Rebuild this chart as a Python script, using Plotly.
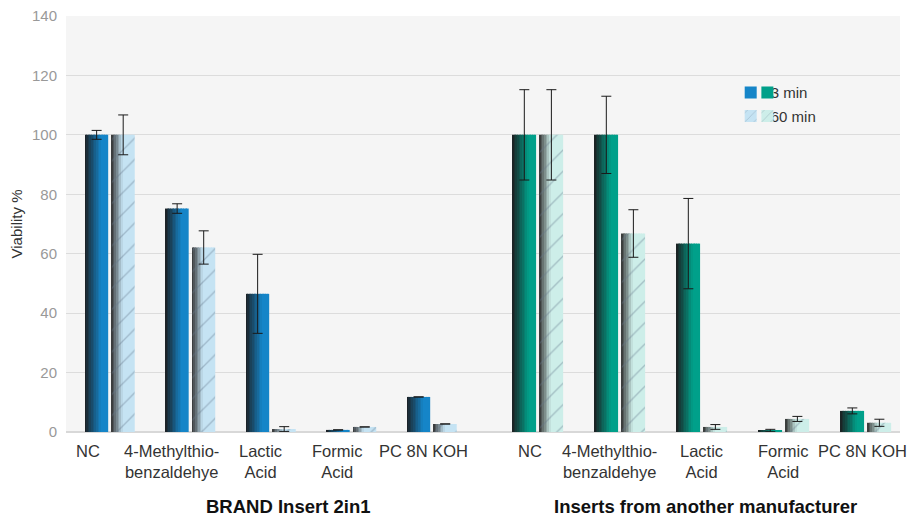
import plotly.graph_objects as go

categories = ["NC", "4-Methylthio-<br>benzaldehye", "Lactic<br>Acid", "Formic<br>Acid", "PC 8N KOH"]
group_titles = ["BRAND Insert 2in1", "Inserts from another manufacturer"]
series_names = ["3 min", "60 min"]

brand_3min = [100, 75.2, 46.5, 0.7, 11.8]
brand_3min_err = [1.5, 1.6, 13.3, None, None]
brand_60min = [100, 62.1, 1.0, 1.7, 2.7]
brand_60min_err = [6.7, 5.6, 0.8, None, None]

other_3min = [100, 100, 63.4, 0.5, 7.1]
other_3min_err = [15.2, 13.0, 15.2, 0.4, 1.0]
other_60min = [100, 66.8, 1.7, 4.4, 3.1]
other_60min_err = [15.2, 8.0, 0.8, 0.85, 1.2]

y_ticks = [0, 20, 40, 60, 80, 100, 120, 140]

# horizontal nudges of the category labels (px), as placed in the original
label_shift_1 = [-22, -19, -11, -15, -9]
label_shift_2 = [-8, -10, 0, -1, -3]

DARK = (28, 30, 32)
DARK2 = (48, 48, 48)
BLUE = (21, 133, 200)
LBLUE = (197, 227, 243)
TEAL = (0, 160, 138)
LTEAL = (205, 238, 233)
HATCH = "rgba(100,120,140,0.8)"
FONT = "Liberation Sans, Arial"


def mix(a, b, t):
    return "rgb(%d,%d,%d)" % tuple(round(a[k] + (b[k] - a[k]) * t) for k in range(3))


fig = go.Figure()
N = 14
W = 0.283

groups = [
    ("x", brand_3min, brand_3min_err, brand_60min, brand_60min_err, BLUE, LBLUE),
    ("x2", other_3min, other_3min_err, other_60min, other_60min_err, TEAL, LTEAL),
]

for xa, v3, e3, v60, e60, c3, c60 in groups:
    for si, (vals, errs, col, dk, off0, ramp) in enumerate([
        (v3, e3, c3, DARK, -0.308, 0.72),
        (v60, e60, c60, DARK2, 0.022, 0.5),
    ]):
        for i in range(N):
            t = min(1.0, ((i + 0.5) / N) / ramp)
            fig.add_trace(go.Bar(
                x=categories, y=vals, xaxis=xa, yaxis="y",
                offset=off0 + i * W / N - 0.002, width=W / N + 0.004,
                marker=dict(color=mix(dk, col, t), line=dict(width=0)),
                showlegend=False, hoverinfo="skip",
            ))
        fig.add_trace(go.Bar(
            x=categories, y=vals, xaxis=xa, yaxis="y",
            offset=off0, width=W,
            marker=dict(color="rgba(0,0,0,0)", line=dict(width=0),
                        pattern=dict(shape="/" if si == 1 else "", fgcolor=HATCH,
                                     size=15, solidity=0.09)),
            error_y=dict(type="data", array=errs, visible=True,
                         color="#1a1a1a", thickness=1, width=5),
            showlegend=False, name=series_names[si],
        ))

# legend entries
for leg, (c3, c60) in [("legend", (BLUE, LBLUE)), ("legend2", (TEAL, LTEAL))]:
    for si, col in enumerate([c3, c60]):
        fig.add_trace(go.Bar(
            x=[None], y=[None], xaxis="x", yaxis="y",
            name=series_names[si] if leg == "legend" else " ",
            legend=leg, legendgroup=leg + str(si),
            marker=dict(color=mix(col, col, 0), line=dict(width=0),
                        pattern=dict(shape="/" if si == 1 else "", fgcolor=HATCH,
                                     size=8, solidity=0.1)),
        ))

annotations = []
for xref, shifts in [("x", label_shift_1), ("x2", label_shift_2)]:
    for cat, sh in zip(categories, shifts):
        annotations.append(dict(
            text=cat, x=cat, xref=xref, y=0, yref="paper", xanchor="center", yanchor="top",
            yshift=-8, xshift=sh, showarrow=False, align="center",
            font=dict(family=FONT, size=16.5, color="#333"),
        ))
for title, xp in zip(group_titles, [0.266, 0.767]):
    annotations.append(dict(
        text="<b>" + title + "</b>", xref="paper", yref="paper", x=xp, y=-0.178,
        xanchor="center", yanchor="middle", showarrow=False,
        font=dict(family=FONT, size=18.5, color="#111"),
    ))

split = 0.5024
axis_common = dict(type="category", showgrid=False, zeroline=False, showline=False,
                   ticks="", showticklabels=False, fixedrange=True, automargin=False)

fig.update_layout(
    width=916, height=516,
    margin=dict(l=58, r=24, t=8, b=92),
    barmode="overlay",
    paper_bgcolor="white",
    plot_bgcolor="#f5f5f5",
    font=dict(family=FONT, color="#333"),
    xaxis=dict(domain=[0, split], range=[-0.547, 4.658], anchor="y", **axis_common),
    xaxis2=dict(domain=[split, 1], range=[-0.646, 4.415], anchor="y", **axis_common),
    yaxis=dict(range=[0, 140], tickvals=y_ticks, showgrid=True, gridcolor="#dcdcdc", gridwidth=1,
               zeroline=True, zerolinecolor="#d8d8d8", zerolinewidth=2, automargin=False,
               ticklabeloverflow="allow",
               tickfont=dict(family=FONT, size=15, color="#999"), ticks="", ticklabelstandoff=8,
               title=dict(text="Viability %", font=dict(size=15, color="#333"), standoff=10)),
    legend=dict(x=0.797, y=0.855, xanchor="left", yanchor="top", bgcolor="rgba(0,0,0,0)",
                font=dict(family=FONT, size=15, color="#333"), tracegroupgap=1, traceorder="grouped"),
    legend2=dict(x=0.817, y=0.855, xanchor="left", yanchor="top", bgcolor="rgba(0,0,0,0)",
                 font=dict(family=FONT, size=15, color="#333"), tracegroupgap=1, traceorder="grouped"),
    annotations=annotations,
)

fig.write_html("out.html")
